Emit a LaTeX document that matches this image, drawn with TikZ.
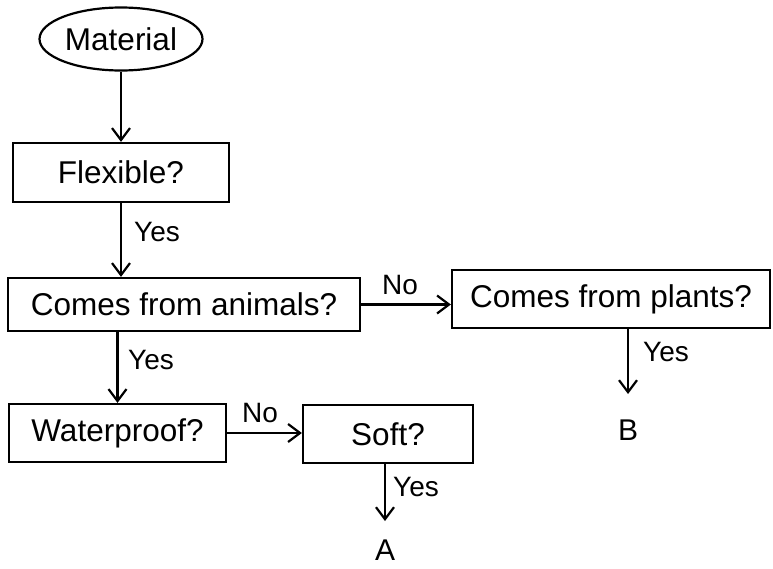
\documentclass[tikz,border=0pt]{standalone}
\usepackage{fontspec}
\setmainfont{Liberation Sans}
\usetikzlibrary{shapes.geometric,arrows.meta}

\tikzset{
  boxtext/.style={font=\fontsize{31.5}{37}\selectfont},
  lbl/.style={font=\fontsize{28}{33}\selectfont, inner sep=0pt},
  decision/.style={draw, line width=2.2pt, rectangle, inner sep=0pt, boxtext},
  terminal/.style={draw, line width=2.2pt, ellipse, inner sep=0pt, boxtext},
  outcome/.style={inner sep=0pt, font=\fontsize{30}{36}\selectfont},
  flow/.style={line width=2.2pt, -{Straight Barb[length=12pt,width=18pt,line width=2.2pt]}}
}

\begin{document}
\begin{tikzpicture}[x=1pt, y=-1pt]
  \useasboundingbox (0,0) rectangle (773,568);

  % question boxes
  \node[terminal, minimum width=163pt, minimum height=63pt] (mat) at (121,39) {Material};
  \node[decision, minimum width=216pt, minimum height=59pt] (flex) at (121,172.5) {Flexible?};
  \node[decision, minimum width=352pt, minimum height=53pt] (anim) at (184,304.5) {Comes from animals?};
  \node[decision, minimum width=318pt, minimum height=58pt] (plant) at (611,299) {Comes from plants?};
  \node[decision, minimum width=217pt, minimum height=58pt] (wat) at (117.5,433) {Waterproof?};
  \node[decision, minimum width=170pt, minimum height=58pt] (soft) at (388,434) {Soft?};

  % outcomes
  \node[outcome] (B) at (628,430) {B};
  \node[outcome] (A) at (385,550) {A};
  \coordinate (bEnd) at (628,394);
  \coordinate (aEnd) at (385,521);

  % connectors
  \draw[flow] (mat.south) -- (flex.north);
  \draw[flow] (flex.south) -- (flex.south |- anim.north);
  \draw[flow] (anim.east) -- (anim.east -| plant.west);
  \draw[flow] (wat.north |- anim.south) -- (wat.north);
  \draw[flow] (wat.east) -- (wat.east -| soft.west);
  \draw[flow] (bEnd |- plant.south) -- (bEnd);
  \draw[flow] (aEnd |- soft.south) -- (aEnd);

  % branch labels
  \node[lbl] (y1) at (157,232) {Yes};
  \node[lbl] (y2) at (151,360) {Yes};
  \node[lbl] (n1) at (400,285) {No};
  \node[lbl] (y3) at (666,352) {Yes};
  \node[lbl] (n2) at (260,413) {No};
  \node[lbl] (y4) at (416,487) {Yes};
\end{tikzpicture}
\end{document}
